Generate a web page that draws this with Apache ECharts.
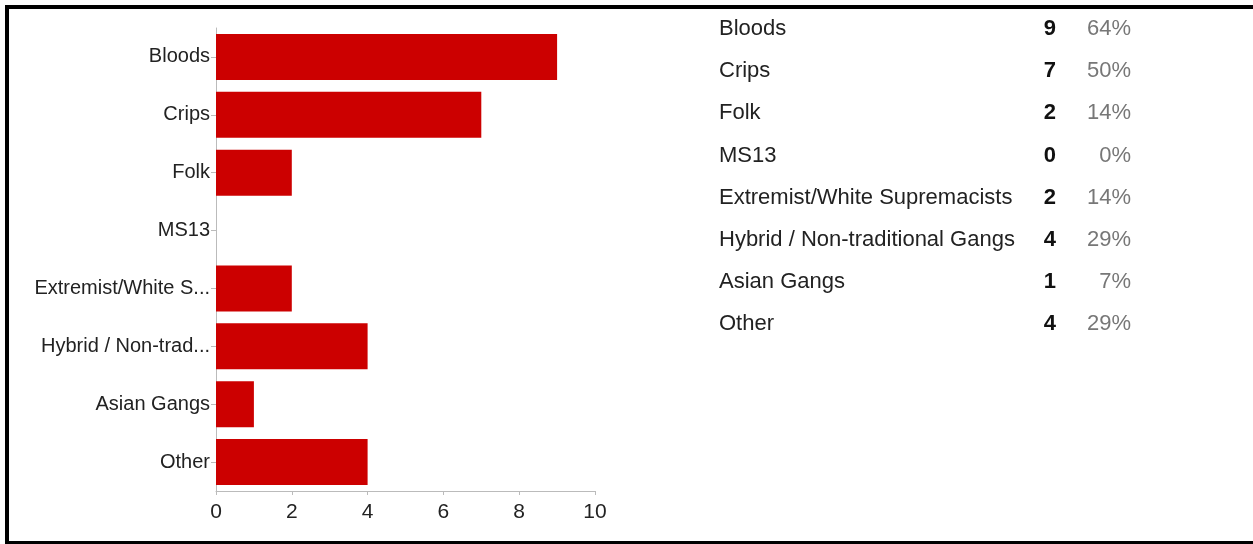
<!DOCTYPE html>
<html>
<head>
<meta charset="utf-8">
<script src="https://cdn.jsdelivr.net/npm/echarts@6/dist/echarts.min.js"></script>
<style>
html,body{margin:0;padding:0;background:#fff;}
#c{width:1253px;height:544px;}
</style>
</head>
<body>
<div id="c"></div>
<script>
const categories = ["Bloods","Crips","Folk","MS13","Extremist/White Supremacists","Hybrid / Non-traditional Gangs","Asian Gangs","Other"];
const counts = [9,7,2,0,2,4,1,4];
const percents = ["64%","50%","14%","0%","14%","29%","7%","29%"];
const xTicks = [0,2,4,6,8,10];

const FONT = "'Liberation Sans', Arial, sans-serif";
const chart = echarts.init(document.getElementById('c'), null, {renderer:'canvas'});

const graphics = [
  // frame
  {type:'rect', shape:{x:5,y:5,width:1248,height:4}, style:{fill:'#000'}, silent:true},
  {type:'rect', shape:{x:5,y:5,width:4,height:539}, style:{fill:'#000'}, silent:true},
  {type:'rect', shape:{x:5,y:541,width:1248,height:3}, style:{fill:'#000'}, silent:true}
];
const rowTop = 29, rowStep = 42.2;
categories.forEach((name, i) => {
  const y = rowTop + i*rowStep;
  graphics.push({type:'text', x:719, y:y, style:{text:name, fill:'#222', font:'22px ' + FONT, textAlign:'left', textVerticalAlign:'middle'}, silent:true});
  graphics.push({type:'text', x:1056, y:y, style:{text:String(counts[i]), fill:'#111', font:'bold 22px ' + FONT, textAlign:'right', textVerticalAlign:'middle'}, silent:true});
  graphics.push({type:'text', x:1131, y:y, style:{text:percents[i], fill:'#777', font:'22px ' + FONT, textAlign:'right', textVerticalAlign:'middle'}, silent:true});
});

chart.setOption({
  animation:false,
  backgroundColor:'#fff',
  grid:{left:216, right:658, top:28, bottom:53, containLabel:false},
  xAxis:{
    type:'value', min:xTicks[0], max:xTicks[xTicks.length-1], interval:2,
    splitLine:{show:false},
    axisLine:{show:true, lineStyle:{color:'#bbb', width:1}},
    axisTick:{show:true, length:4, lineStyle:{color:'#bbb'}},
    axisLabel:{color:'#222', fontSize:21, fontFamily:FONT, margin:11,
      formatter:v => xTicks.includes(v) ? String(v) : ''}
  },
  yAxis:{
    type:'category', data:categories, inverse:true,
    axisLine:{show:true, lineStyle:{color:'#bbb', width:1}},
    axisTick:{show:true, alignWithLabel:true, length:5, lineStyle:{color:'#bbb'}},
    axisLabel:{color:'#222', fontSize:20, fontFamily:FONT, margin:6, padding:[3,0,0,0],
      formatter:v => v.length > 20 ? v.slice(0,17) + '...' : v}
  },
  series:[{
    type:'bar', data:counts, barWidth:46,
    itemStyle:{color:'#cc0000'}
  }],
  graphic:graphics
});
</script>
</body>
</html>
